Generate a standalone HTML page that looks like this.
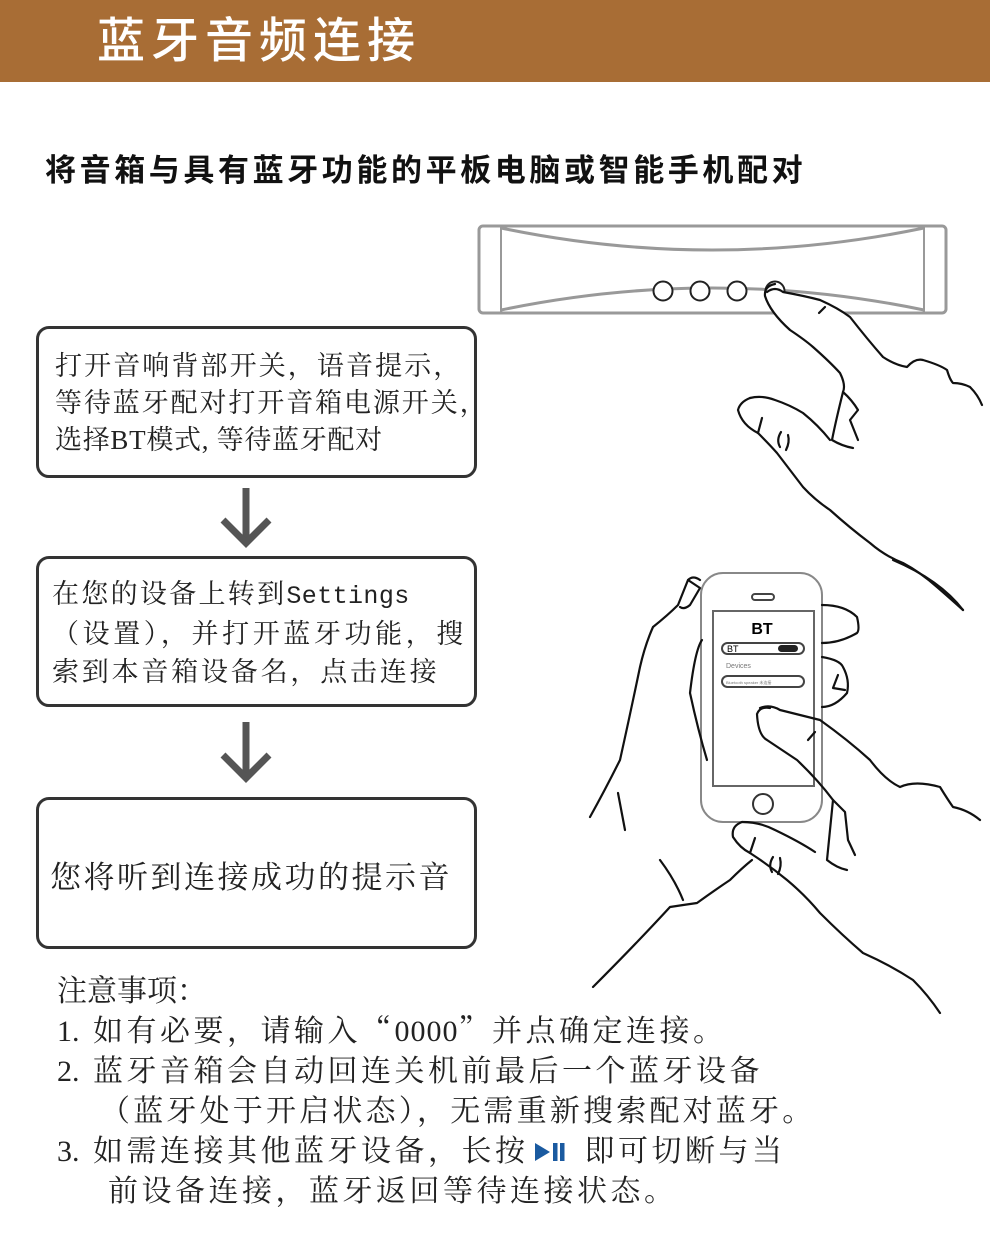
<!DOCTYPE html>
<html><head><meta charset="utf-8"><style>
*{margin:0;padding:0;box-sizing:border-box}
body{width:990px;height:1238px;background:#fff;position:relative;overflow:hidden;font-family:"Noto Serif CJK SC","Liberation Serif",serif;color:#222}
.hdr{position:absolute;left:0;top:0;width:990px;height:82px;background:#A86D35}
.hdr span{position:absolute;left:97px;top:12px;font-family:"Liberation Sans","Noto Sans CJK SC",sans-serif;font-size:48px;letter-spacing:6px;color:#fff;font-weight:500;line-height:60px;white-space:nowrap}
.sub{position:absolute;left:45px;top:150px;font-family:"Liberation Sans","Noto Sans CJK SC",sans-serif;font-weight:bold;font-size:31px;letter-spacing:3.6px;line-height:42px;white-space:nowrap;color:#111}
.box{position:absolute;left:36px;width:441px;border:3px solid #333;border-radius:13px;background:#fff}
.t{position:absolute;white-space:nowrap;font-size:27px;line-height:37px;color:#222}
.mono{font-family:"Liberation Mono",monospace;font-size:25px;letter-spacing:0.4px}
.n{position:absolute;left:57px;white-space:nowrap;font-size:30px;letter-spacing:3.5px;line-height:40px;color:#222}
.num{display:inline-block;width:36px;font-family:"Liberation Serif",serif;letter-spacing:0}
.dg{font-family:"Liberation Serif",serif;letter-spacing:1px}
svg.main{position:absolute;left:0;top:0}
</style></head><body>
<div class="hdr"><span>蓝牙音频连接</span></div>
<div class="sub">将音箱与具有蓝牙功能的平板电脑或智能手机配对</div>

<div class="box" style="top:326px;height:152px"></div>
<div class="t" style="left:55px;top:345px;letter-spacing:2.1px">打开音响背部开关，语音提示，</div>
<div class="t" style="left:55px;top:382px;letter-spacing:1.9px">等待蓝牙配对打开音箱电源开关，</div>
<div class="t" style="left:55px;top:419px;letter-spacing:0.7px">选择<span style="font-family:'Liberation Serif',serif">BT</span>模式<span style="font-family:'Liberation Serif',serif">, </span>等待蓝牙配对</div>

<div class="box" style="top:556px;height:151px"></div>
<div class="t" style="left:52px;top:573px;letter-spacing:2.3px">在您的设备上转到<span class="mono">Settings</span></div>
<div class="t" style="left:52px;top:613px;letter-spacing:3.6px">（设置），并打开蓝牙功能，搜</div>
<div class="t" style="left:52px;top:651px;letter-spacing:2.8px">索到本音箱设备名，点击连接</div>

<div class="box" style="top:797px;height:152px"></div>
<div class="t" style="left:50px;top:854px;font-size:31px;letter-spacing:2.5px;line-height:42px">您将听到连接成功的提示音</div>

<div class="n" style="top:968px;letter-spacing:0">注意事项：</div>
<div class="n" style="top:1008px"><span class="num">1.</span>如有必要，请输入“<span class="dg">0000</span>”并点确定连接。</div>
<div class="n" style="top:1048px"><span class="num">2.</span>蓝牙音箱会自动回连关机前最后一个蓝牙设备</div>
<div class="n" style="top:1088px;left:100px;letter-spacing:3.2px">（蓝牙处于开启状态），无需重新搜索配对蓝牙。</div>
<div class="n" style="top:1128px"><span class="num">3.</span>如需连接其他蓝牙设备，长按<svg width="40" height="22" viewBox="0 0 40 22" style="vertical-align:-2px;margin:0 12px 0 4px"><polygon points="2,2 2,20 17,11" fill="#1a5aa0"/><rect x="20" y="2" width="4.5" height="18" fill="#1a5aa0"/><rect x="27" y="2" width="4.5" height="18" fill="#1a5aa0"/></svg>即可切断与当</div>
<div class="n" style="top:1168px;left:108px">前设备连接，蓝牙返回等待连接状态。</div>

<svg class="main" width="990" height="1238" viewBox="0 0 990 1238">
<g stroke="#555" stroke-width="7" fill="none">
<line x1="246" y1="488" x2="246" y2="542"/><polyline points="223,520 246,543 269,520"/>
<line x1="246" y1="722" x2="246" y2="777"/><polyline points="223,755 246,778 269,755"/>
</g>
<g stroke="#999" stroke-width="3" fill="none">
<rect x="479" y="226" width="467" height="87" rx="4"/>
<line x1="501" y1="227" x2="501" y2="312" stroke-width="2"/><line x1="924" y1="227" x2="924" y2="312" stroke-width="2"/>
<path d="M501,228 Q712,272 924,228"/>
<path d="M501,310 Q712,266 924,310"/>
</g>
<g stroke="#222" stroke-width="2" fill="#fff">
<circle cx="663" cy="291" r="9.5"/><circle cx="700" cy="291" r="9.5"/><circle cx="737" cy="291" r="9.5"/><circle cx="775" cy="291" r="9.5"/>
</g>
<g fill="#fff">
<path d="M775,284 Q764,286 765,296 Q770,312 790,330 Q805,340 813,347 Q830,362 840,373 Q846,385 843,392 Q836,420 832,440 Q842,446 853,448 L990,448 L990,400 L982,405 Q978,395 970,387 Q962,383 953,383 Q950,380 947,370 Q940,365 923,360 Q915,358 907,367 Q895,365 883,357 Q868,340 850,317 Q838,308 820,300 Q805,296 783,292 Q778,286 775,284 Z"/>
</g>
<g stroke="#111" stroke-width="2.2" fill="none" stroke-linejoin="round" stroke-linecap="round">
<path d="M775,284 Q764,286 765,296 Q770,312 790,330 Q805,340 813,347 Q830,362 840,373 Q846,385 843,392 Q836,420 832,440 Q842,446 853,448"/>
<path d="M767,292 Q775,286 783,292 Q805,296 820,300 Q838,308 850,317 Q868,340 883,357 Q895,365 907,367 Q915,358 923,360 Q940,365 947,370 Q950,380 953,383 Q962,383 970,387 Q978,395 982,405"/>
<path d="M825,307 L819,313"/>
<path d="M843,392 Q852,400 858,410 L850,420 L858,440"/>
<path d="M750,398 Q740,402 738,410 Q742,425 758,433 Q770,445 777,453 Q790,470 803,487 Q815,500 830,510 Q850,528 870,543 Q885,556 903,563 Q920,572 937,587 Q952,600 963,610"/>
<path d="M750,398 Q762,395 775,400 Q790,405 803,413 Q818,425 830,440"/>
<path d="M758,433 L762,418"/><path d="M781,432 Q776,440 780,447"/><path d="M788,435 Q790,442 786,450"/>
<path d="M893,560 Q940,580 963,610" />
</g>
<g stroke="#888" stroke-width="2" fill="#fff">
<rect x="701" y="573" width="121" height="249" rx="22"/>
<rect x="713" y="611" width="101" height="175" fill="#fff" stroke="#666"/>
<rect x="752" y="594" width="22" height="6" rx="3" stroke="#444"/>
<circle cx="763" cy="804" r="10" stroke="#333"/>
<rect x="722" y="643" width="82" height="11" rx="5.5" stroke="#444"/>
<rect x="722" y="676" width="82" height="11" rx="5.5" stroke="#444"/>
</g>
<rect x="778" y="645" width="20" height="7" rx="3.5" fill="#222"/>
<text x="762" y="634" font-family="Liberation Sans,sans-serif" font-weight="bold" font-size="16" text-anchor="middle" fill="#000">BT</text>
<text x="727" y="652" font-family="Liberation Sans,sans-serif" font-size="9" fill="#000">BT</text>
<text x="726" y="668" font-family="Liberation Sans,sans-serif" font-size="7" fill="#777">Devices</text>
<text x="726" y="684" font-family="Liberation Sans,sans-serif" font-size="4" fill="#777">Bluetooth speaker 未连接</text>
<g stroke="#111" stroke-width="2.2" fill="none" stroke-linejoin="round" stroke-linecap="round">
<path d="M700,580 Q693,575 688,580 L678,605 Q668,615 653,627 Q645,645 640,667 Q630,715 620,760 Q605,790 590,817"/>
<path d="M688,580 L700,588 L690,605 Q684,610 680,607"/>
<path d="M702,640 Q695,650 690,693 Q698,730 707,760"/>
<path d="M618,793 L625,830"/>
<path d="M822,605 Q845,605 857,617 Q860,630 857,633 Q840,643 822,643"/>
<path d="M822,657 Q840,660 843,667 Q850,680 847,693 Q835,707 822,707"/>
<path d="M838,675 L833,688 L845,690"/>
<path d="M770,708 Q760,706 757,714 Q758,735 767,740 Q782,750 797,760 Q818,780 833,800 Q830,830 827,860 Q837,868 847,870"/>
<path d="M760,708 Q770,704 780,710 Q800,715 820,720 Q848,740 870,760 Q885,780 900,787 Q915,780 940,787 Q948,800 953,807 Q968,810 980,820"/>
<path d="M815,732 L808,740"/><path d="M833,800 L845,812 L848,840 L855,855"/>
<path d="M742,822 Q731,826 733,837 Q740,848 750,853 Q770,866 787,880 Q805,895 820,913 Q842,935 863,953 Q890,965 913,980 Q928,995 940,1013"/>
<path d="M742,822 Q760,822 775,830 Q800,842 815,852"/>
<path d="M750,853 L755,838"/><path d="M773,857 Q768,865 772,872"/><path d="M780,858 Q782,866 778,874"/>
<path d="M593,987 Q635,945 670,907 Q683,905 697,903 Q715,890 730,880 Q742,868 752,860"/>
<path d="M660,860 Q675,880 683,900"/>
</g>
</svg>
</body></html>
